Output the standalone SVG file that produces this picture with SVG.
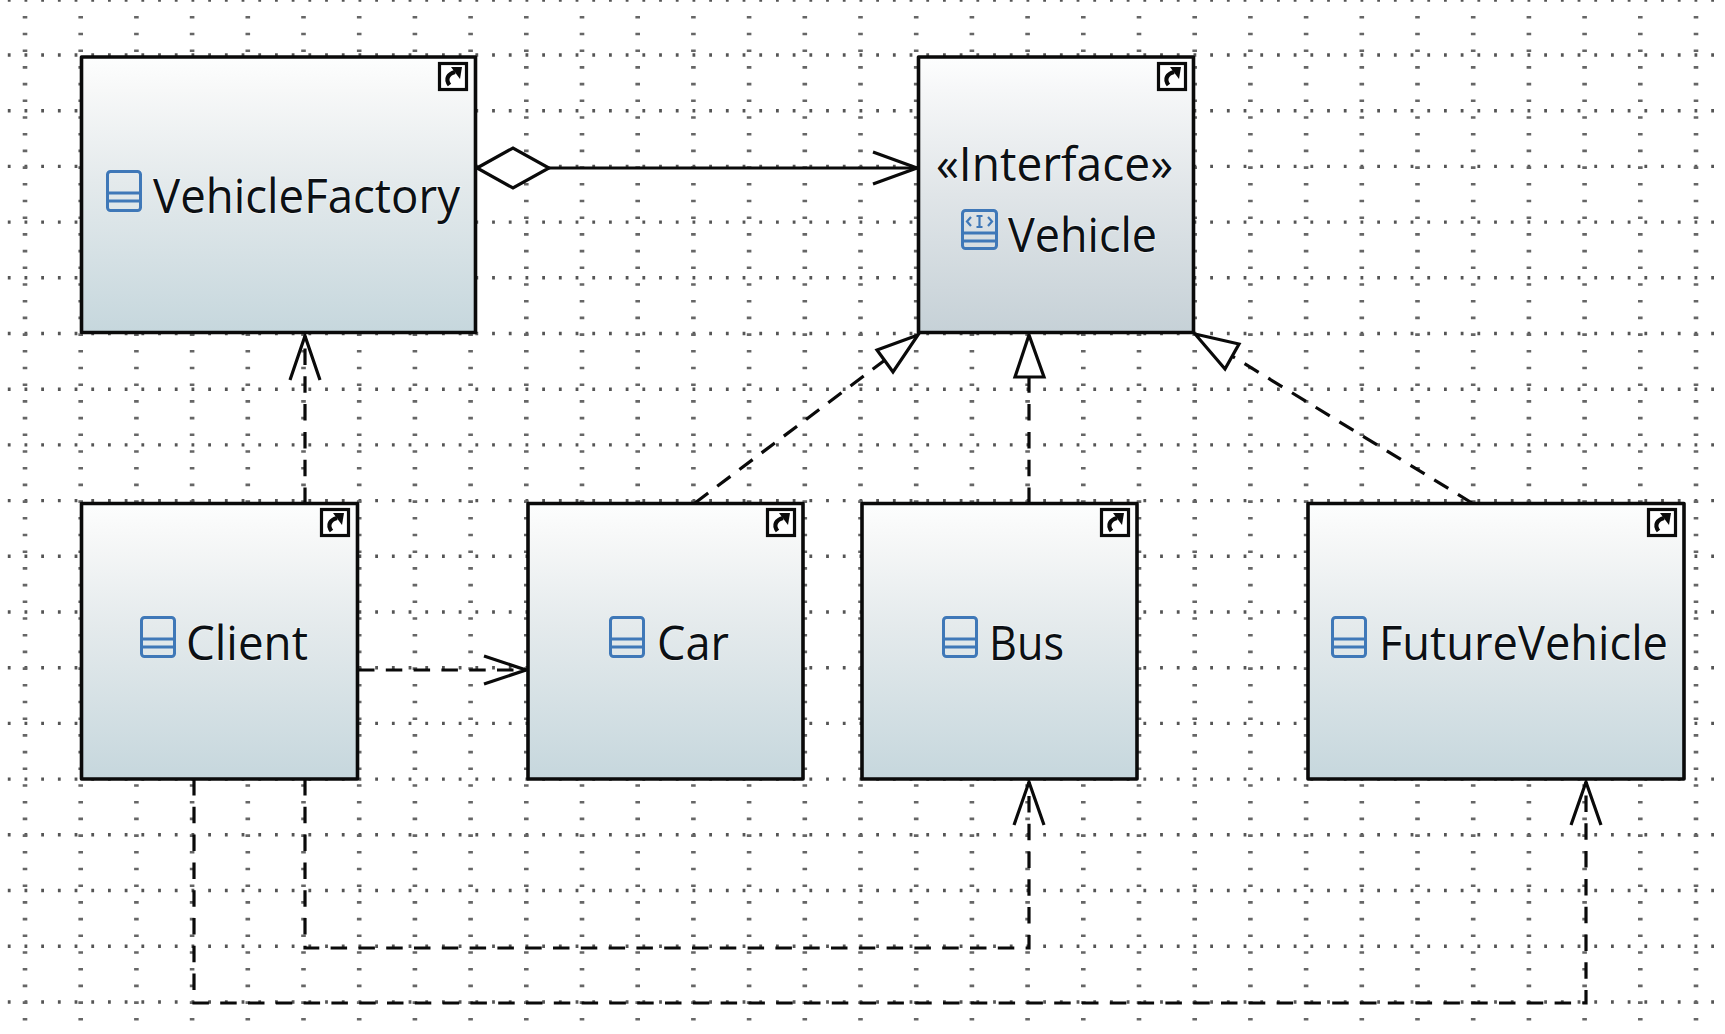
<svg xmlns="http://www.w3.org/2000/svg" xmlns:xlink="http://www.w3.org/1999/xlink" width="1725" height="1034" viewBox="0 0 1725 1034">
<style>
.box{stroke:#0a0a0a;stroke-width:3.6;stroke-linejoin:round}
.lbl{font-family:"Open Sans","Noto Sans","Liberation Sans",sans-serif;font-size:47px;fill:#0c1014;paint-order:stroke;stroke:#fff;stroke-opacity:.45;stroke-width:2px}
.c{fill:none;stroke:#0a0a0a;stroke-width:3.2}
.d{stroke-dasharray:16.5 11.3}
.tri{fill:#fff;stroke:#0a0a0a;stroke-width:3.2;stroke-linejoin:miter}
.ic{fill:none;stroke:#3f78b8;stroke-width:3}
.gr{fill:none;stroke:#555;stroke-width:3.4;stroke-dasharray:2.8 13.9}
.gc{fill:none;stroke:#666;stroke-width:4.6;stroke-dasharray:2.6 14.1}
</style>
<defs>
<linearGradient id="g" x1="0" y1="0" x2="0" y2="1"><stop offset="0" stop-color="#fdfefe"/><stop offset="0.12" stop-color="#f7f8f8"/><stop offset="0.45" stop-color="#e4eaec"/><stop offset="1" stop-color="#c6d7dd"/></linearGradient>
<linearGradient id="gv" x1="0" y1="0" x2="0" y2="1"><stop offset="0" stop-color="#fdfefe"/><stop offset="0.12" stop-color="#f6f7f8"/><stop offset="0.5" stop-color="#e0e5e8"/><stop offset="1" stop-color="#c6d1d7"/></linearGradient>
<g id="short"><rect x="1.5" y="1.5" width="27" height="26" fill="#fff" stroke="#0a0a0a" stroke-width="3.2"/><path d="M11.500 23 C7 17 10 12 17 10" fill="none" stroke="#0a0a0a" stroke-width="4.2"/><path d="M13 5 L24 5 L22 17 Z" fill="#0a0a0a"/></g>
<g id="cls"><rect x="1.5" y="1.5" width="33" height="39" rx="3" fill="#f4f6f7" fill-opacity="0.5" class="ic"/><path d="M1.500 23 H34.500 M1.500 31 H34.500" class="ic"/></g>
<g id="ifc"><rect x="1.500" y="1.500" width="34" height="38" rx="3" fill="#f4f6f7" fill-opacity="0.5" class="ic"/><path d="M1.500 24 H35.500 M1.500 32 H35.500" class="ic"/><path d="M10 8 L6 12.500 L10 17 M27 8 L31 12.500 L27 17 M15.500 7 H21.500 M15.500 18 H21.500 M18.500 7 V18" class="ic" style="stroke-width:2.2"/></g>
</defs>
<rect width="1725" height="1034" fill="#fff"/>
<g id="grid">
<path class="gr" d="M7.800 0 H1725 M7.800 55 H1725 M7.800 110.700 H1725 M7.800 166.400 H1725 M7.800 222.100 H1725 M7.800 277.800 H1725 M7.800 333.500 H1725 M7.800 389.200 H1725 M7.800 444.900 H1725 M7.800 500.600 H1725 M7.800 556.300 H1725 M7.800 612 H1725 M7.800 667.700 H1725 M7.800 723.400 H1725 M7.800 779.100 H1725 M7.800 834.800 H1725 M7.800 890.500 H1725 M7.800 946.200 H1725 M7.800 1002 H1725"/>
<path class="gc" d="M25 16 V1034 M80.700 16 V1034 M136.400 16 V1034 M192.100 16 V1034 M247.800 16 V1034 M303.500 16 V1034 M359.200 16 V1034 M414.900 16 V1034 M470.600 16 V1034 M526.300 16 V1034 M582 16 V1034 M637.700 16 V1034 M693.400 16 V1034 M749.100 16 V1034 M804.800 16 V1034 M860.500 16 V1034 M916.200 16 V1034 M971.900 16 V1034 M1027.600 16 V1034 M1083.300 16 V1034 M1139 16 V1034 M1194.700 16 V1034 M1250.400 16 V1034 M1306.100 16 V1034 M1361.800 16 V1034 M1417.500 16 V1034 M1473.200 16 V1034 M1528.900 16 V1034 M1584.600 16 V1034 M1640.300 16 V1034 M1696 16 V1034"/>
</g>
<g id="connectors">
<path class="c" d="M549 168 H917"/>
<path class="c" d="M873 152 L917 168 L873 184"/>
<path class="tri" d="M477 168 L513 148 L549 168 L513 188 Z"/>
<path class="c d" d="M305 504 V336"/>
<path class="c" d="M290 380 L305 336 L320 380"/>
<path class="c d" d="M358 670 H526"/>
<path class="c" d="M484 656 L526 670 L484 684"/>
<path class="c d" d="M695 503 L885 360"/>
<path class="tri" d="M918 335 L877 350 L893 372 Z"/>
<path class="c d" d="M1029 504 V377"/>
<path class="tri" d="M1029 335 L1015 377 L1044 377 Z"/>
<path class="c d" d="M1472 503 L1232 356"/>
<path class="tri" d="M1195 334 L1239 344 L1225 369 Z"/>
<path class="c d" d="M305 779 V948 H1029 V782"/>
<path class="c" d="M1014 825 L1029 782 L1044 825"/>
<path class="c d" d="M194 779 V1003 H1586 V782"/>
<path class="c" d="M1571 825 L1586 782 L1601 825"/>
</g>
<g id="VehicleFactory"><rect class="box" x="81.500" y="57" width="394" height="275.500" fill="url(#g)"/><use xlink:href="#short" x="438" y="62"/><use xlink:href="#cls" x="106" y="170"/><text class="lbl" x="153" y="213" textLength="307" lengthAdjust="spacingAndGlyphs">VehicleFactory</text></g>
<g id="Vehicle"><rect class="box" x="918.500" y="57" width="275" height="275.500" fill="url(#gv)"/><use xlink:href="#short" x="1157" y="62"/><use xlink:href="#ifc" x="961" y="209"/><text class="lbl" x="936" y="181" textLength="237" lengthAdjust="spacingAndGlyphs">«Interface»</text><text class="lbl" x="1008" y="252" textLength="149" lengthAdjust="spacingAndGlyphs">Vehicle</text></g>
<g id="Client"><rect class="box" x="81.500" y="503.500" width="276" height="275.500" fill="url(#g)"/><use xlink:href="#short" x="320" y="508"/><use xlink:href="#cls" x="140" y="616"/><text class="lbl" x="186" y="660" textLength="122" lengthAdjust="spacingAndGlyphs">Client</text></g>
<g id="Car"><rect class="box" x="528" y="503.500" width="275" height="275.500" fill="url(#g)"/><use xlink:href="#short" x="766" y="508"/><use xlink:href="#cls" x="609" y="616"/><text class="lbl" x="657" y="660" textLength="72" lengthAdjust="spacingAndGlyphs">Car</text></g>
<g id="Bus"><rect class="box" x="862" y="503.500" width="275" height="275.500" fill="url(#g)"/><use xlink:href="#short" x="1100" y="508"/><use xlink:href="#cls" x="942" y="616"/><text class="lbl" x="989" y="660" textLength="75" lengthAdjust="spacingAndGlyphs">Bus</text></g>
<g id="FutureVehicle"><rect class="box" x="1308" y="503.500" width="376" height="275.500" fill="url(#g)"/><use xlink:href="#short" x="1647" y="508"/><use xlink:href="#cls" x="1331" y="616"/><text class="lbl" x="1379" y="660" textLength="289" lengthAdjust="spacingAndGlyphs">FutureVehicle</text></g>
</svg>
